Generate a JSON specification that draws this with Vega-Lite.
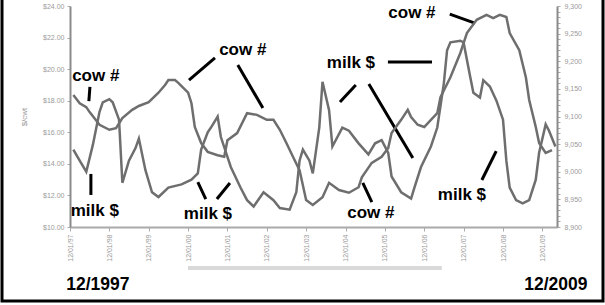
{
  "$schema": "https://vega.github.io/schema/vega-lite/v6.json",
  "width": 601,
  "height": 307,
  "autosize": {"type": "none"},
  "padding": {"left": 2, "top": -6, "right": 2, "bottom": 4},
  "background": "white",
  "config": {
    "view": {"stroke": "black", "strokeWidth": 3},
    "font": "Liberation Sans",
    "axis": {"labelFont": "Liberation Sans", "titleFont": "Liberation Sans"}
  },
  "datasets": {
    "milk": [
      {"date": "1998-01-01", "price": 14.9}, {"date": "1998-03-01", "price": 14.2}, {"date": "1998-05-01", "price": 13.5},
      {"date": "1998-07-01", "price": 15.2}, {"date": "1998-09-01", "price": 17.3}, {"date": "1998-10-01", "price": 17.9},
      {"date": "1998-12-01", "price": 18.1}, {"date": "1999-01-01", "price": 17.9}, {"date": "1999-03-01", "price": 16.8},
      {"date": "1999-04-01", "price": 12.8}, {"date": "1999-06-01", "price": 14.2}, {"date": "1999-08-01", "price": 15.0},
      {"date": "1999-09-01", "price": 15.6}, {"date": "1999-11-01", "price": 13.6}, {"date": "2000-01-01", "price": 12.2},
      {"date": "2000-03-01", "price": 11.9}, {"date": "2000-06-01", "price": 12.5}, {"date": "2000-10-01", "price": 12.7},
      {"date": "2001-01-01", "price": 13.0}, {"date": "2001-03-01", "price": 13.4}, {"date": "2001-04-01", "price": 14.9},
      {"date": "2001-06-01", "price": 16.0}, {"date": "2001-07-01", "price": 16.3}, {"date": "2001-09-01", "price": 17.0},
      {"date": "2001-10-01", "price": 15.7}, {"date": "2002-01-01", "price": 13.8}, {"date": "2002-04-01", "price": 12.5},
      {"date": "2002-06-01", "price": 11.7}, {"date": "2002-08-01", "price": 11.3}, {"date": "2002-11-01", "price": 12.2},
      {"date": "2003-02-01", "price": 11.7}, {"date": "2003-04-01", "price": 11.2}, {"date": "2003-07-01", "price": 11.1},
      {"date": "2003-09-01", "price": 12.2}, {"date": "2003-10-01", "price": 14.2}, {"date": "2003-11-01", "price": 14.9},
      {"date": "2004-01-01", "price": 14.2}, {"date": "2004-02-01", "price": 13.4}, {"date": "2004-04-01", "price": 16.3},
      {"date": "2004-05-01", "price": 19.2}, {"date": "2004-07-01", "price": 17.4}, {"date": "2004-08-01", "price": 15.1},
      {"date": "2004-11-01", "price": 16.3}, {"date": "2005-01-01", "price": 16.1}, {"date": "2005-04-01", "price": 15.3},
      {"date": "2005-07-01", "price": 14.6}, {"date": "2005-09-01", "price": 15.3}, {"date": "2005-11-01", "price": 15.5},
      {"date": "2006-01-01", "price": 14.7}, {"date": "2006-02-01", "price": 13.2}, {"date": "2006-05-01", "price": 12.2},
      {"date": "2006-08-01", "price": 11.8}, {"date": "2006-09-01", "price": 12.5}, {"date": "2006-11-01", "price": 13.8},
      {"date": "2007-02-01", "price": 15.1}, {"date": "2007-04-01", "price": 16.3}, {"date": "2007-06-01", "price": 19.1},
      {"date": "2007-07-01", "price": 21.2}, {"date": "2007-08-01", "price": 21.7}, {"date": "2007-11-01", "price": 21.8},
      {"date": "2007-12-01", "price": 21.7}, {"date": "2008-01-01", "price": 20.6}, {"date": "2008-02-01", "price": 19.5},
      {"date": "2008-03-01", "price": 18.5}, {"date": "2008-05-01", "price": 18.2}, {"date": "2008-06-01", "price": 19.3},
      {"date": "2008-08-01", "price": 18.9}, {"date": "2008-10-01", "price": 18.0}, {"date": "2008-12-01", "price": 16.8},
      {"date": "2009-01-01", "price": 14.2}, {"date": "2009-02-01", "price": 12.5}, {"date": "2009-04-01", "price": 11.7},
      {"date": "2009-06-01", "price": 11.5}, {"date": "2009-08-01", "price": 11.7}, {"date": "2009-10-01", "price": 13.0},
      {"date": "2009-11-01", "price": 14.7}, {"date": "2010-01-01", "price": 16.5}, {"date": "2010-02-01", "price": 16.1},
      {"date": "2010-04-01", "price": 15.1}
    ],
    "cow": [
      {"date": "1998-01-01", "cows": 9139}, {"date": "1998-03-01", "cows": 9124}, {"date": "1998-05-01", "cows": 9117},
      {"date": "1998-06-01", "cows": 9108}, {"date": "1998-09-01", "cows": 9085}, {"date": "1998-12-01", "cows": 9076},
      {"date": "1999-02-01", "cows": 9079}, {"date": "1999-04-01", "cows": 9097}, {"date": "1999-07-01", "cows": 9112},
      {"date": "1999-09-01", "cows": 9119}, {"date": "1999-12-01", "cows": 9126}, {"date": "2000-03-01", "cows": 9143},
      {"date": "2000-05-01", "cows": 9157}, {"date": "2000-06-01", "cows": 9166}, {"date": "2000-08-01", "cows": 9166},
      {"date": "2000-09-01", "cows": 9161}, {"date": "2000-12-01", "cows": 9143}, {"date": "2001-01-01", "cows": 9124},
      {"date": "2001-02-01", "cows": 9081}, {"date": "2001-04-01", "cows": 9052}, {"date": "2001-06-01", "cows": 9036},
      {"date": "2001-09-01", "cows": 9030}, {"date": "2001-11-01", "cows": 9027}, {"date": "2001-12-01", "cows": 9057},
      {"date": "2002-03-01", "cows": 9070}, {"date": "2002-06-01", "cows": 9106}, {"date": "2002-09-01", "cows": 9103},
      {"date": "2002-12-01", "cows": 9094}, {"date": "2003-02-01", "cows": 9094}, {"date": "2003-04-01", "cows": 9076},
      {"date": "2003-06-01", "cows": 9052}, {"date": "2003-08-01", "cows": 9027}, {"date": "2003-10-01", "cows": 9003},
      {"date": "2003-12-01", "cows": 8949}, {"date": "2004-02-01", "cows": 8940}, {"date": "2004-05-01", "cows": 8954},
      {"date": "2004-07-01", "cows": 8980}, {"date": "2004-10-01", "cows": 8967}, {"date": "2005-01-01", "cows": 8962},
      {"date": "2005-04-01", "cows": 8972}, {"date": "2005-05-01", "cows": 8990}, {"date": "2005-08-01", "cows": 9016},
      {"date": "2005-11-01", "cows": 9027}, {"date": "2006-01-01", "cows": 9043}, {"date": "2006-02-01", "cows": 9070},
      {"date": "2006-05-01", "cows": 9094}, {"date": "2006-07-01", "cows": 9112}, {"date": "2006-08-01", "cows": 9099},
      {"date": "2006-10-01", "cows": 9085}, {"date": "2006-12-01", "cows": 9081}, {"date": "2007-02-01", "cows": 9094},
      {"date": "2007-04-01", "cows": 9106}, {"date": "2007-05-01", "cows": 9135}, {"date": "2007-08-01", "cows": 9171},
      {"date": "2007-11-01", "cows": 9215}, {"date": "2008-01-01", "cows": 9251}, {"date": "2008-04-01", "cows": 9275},
      {"date": "2008-07-01", "cows": 9284}, {"date": "2008-09-01", "cows": 9278}, {"date": "2008-11-01", "cows": 9284},
      {"date": "2009-01-01", "cows": 9280}, {"date": "2009-02-01", "cows": 9251}, {"date": "2009-05-01", "cows": 9220},
      {"date": "2009-07-01", "cows": 9171}, {"date": "2009-08-01", "cows": 9130}, {"date": "2009-10-01", "cows": 9081},
      {"date": "2009-11-01", "cows": 9052}, {"date": "2010-01-01", "cows": 9034}, {"date": "2010-03-01", "cows": 9039}
    ],
    "notes": [
      {"date": "1998-07-28", "value": 19.57, "label": "cow #"},
      {"date": "1998-07-19", "value": 11.01, "label": "milk $"},
      {"date": "2002-04-22", "value": 21.21, "label": "cow #"},
      {"date": "2001-06-03", "value": 10.82, "label": "milk $"},
      {"date": "2005-01-20", "value": 20.39, "label": "milk $"},
      {"date": "2005-07-24", "value": 10.89, "label": "cow #"},
      {"date": "2006-08-09", "value": 23.56, "label": "cow #"},
      {"date": "2007-11-16", "value": 12.03, "label": "milk $"}
    ],
    "pointers": [
      {"d1": "1998-06-04", "v1": 18.87, "d2": "1998-05-25", "v2": 17.98},
      {"d1": "1998-06-13", "v1": 13.36, "d2": "1998-06-13", "v2": 12.03},
      {"d1": "2000-12-09", "v1": 19.31, "d2": "2001-08-07", "v2": 20.71},
      {"d1": "2002-03-07", "v1": 20.26, "d2": "2002-10-26", "v2": 17.54},
      {"d1": "2001-03-01", "v1": 12.85, "d2": "2001-05-14", "v2": 11.77},
      {"d1": "2001-12-24", "v1": 12.79, "d2": "2001-08-25", "v2": 11.77},
      {"d1": "2004-10-10", "v1": 17.92, "d2": "2005-03-06", "v2": 19.0},
      {"d1": "2005-07-05", "v1": 19.06, "d2": "2006-08-17", "v2": 14.37},
      {"d1": "2005-12-29", "v1": 20.45, "d2": "2007-02-11", "v2": 20.45},
      {"d1": "2005-05-10", "v1": 12.79, "d2": "2005-08-02", "v2": 11.58},
      {"d1": "2007-07-26", "v1": 23.49, "d2": "2008-03-15", "v2": 22.92},
      {"d1": "2008-09-29", "v1": 14.81, "d2": "2008-05-19", "v2": 12.98}
    ],
    "ends": [
      {"date": "1998-08-17", "value": 6.33, "label": "12/1997"},
      {"date": "2010-04-06", "value": 6.33, "label": "12/2009"}
    ],
    "slider": [
      {"d1": "2000-11-30", "d2": "2007-05-13", "value": 7.4}
    ]
  },
  "layer": [
    {
      "layer": [
        {
          "data": {"name": "milk"},
          "mark": {"type": "line", "stroke": "#6e6e6e", "strokeWidth": 2.5},
          "encoding": {
            "x": {
              "field": "date", "type": "temporal", "title": null,
              "scale": {"type": "utc", "domain": [{"year": 1997, "month": 12, "date": 1, "utc": true}, {"year": 2010, "month": 4, "date": 16, "utc": true}], "range": [68, 555]},
              "axis": {
                "offset": -74,
                "values": [
                  {"year": 1997, "month": 12, "date": 1, "utc": true}, {"year": 1998, "month": 12, "date": 1, "utc": true},
                  {"year": 1999, "month": 12, "date": 1, "utc": true}, {"year": 2000, "month": 12, "date": 1, "utc": true},
                  {"year": 2001, "month": 12, "date": 1, "utc": true}, {"year": 2002, "month": 12, "date": 1, "utc": true},
                  {"year": 2003, "month": 12, "date": 1, "utc": true}, {"year": 2004, "month": 12, "date": 1, "utc": true},
                  {"year": 2005, "month": 12, "date": 1, "utc": true}, {"year": 2006, "month": 12, "date": 1, "utc": true},
                  {"year": 2007, "month": 12, "date": 1, "utc": true}, {"year": 2008, "month": 12, "date": 1, "utc": true},
                  {"year": 2009, "month": 12, "date": 1, "utc": true}
                ],
                "format": "%m/%d/%y",
                "labelAngle": 270,
                "labelFontSize": 7,
                "labelColor": "#9a9a9a",
                "labelPadding": 3,
                "tickSize": 4,
                "tickColor": "#aaaaaa",
                "domainColor": "#aaaaaa",
                "domainWidth": 2,
                "grid": false
              }
            },
            "y": {
              "field": "price", "type": "quantitative", "title": "$/cwt",
              "scale": {"domain": [10, 24], "range": [233, 12], "nice": false, "zero": false},
              "axis": {
                "orient": "left",
                "offset": -68,
                "values": [10, 10.5, 11, 11.5, 12, 12.5, 13, 13.5, 14, 14.5, 15, 15.5, 16, 16.5, 17, 17.5, 18, 18.5, 19, 19.5, 20, 20.5, 21, 21.5, 22, 22.5, 23, 23.5, 24],
                "labelExpr": "datum.value % 2 === 0 ? format(datum.value, '$.2f') : ''",
                "labelFontSize": 7,
                "labelColor": "#9a9a9a",
                "labelPadding": 3,
                "tickSize": 3,
                "tickColor": "#aaaaaa",
                "domainColor": "#8a8a8a",
                "domainWidth": 2,
                "grid": false,
                "titleFontSize": 8,
                "titleFontWeight": "normal",
                "titleColor": "#9a9a9a",
                "titlePadding": 14
              }
            }
          }
        },
        {
          "data": {"name": "pointers"},
          "mark": {"type": "rule", "color": "black", "strokeWidth": 3},
          "encoding": {
            "x": {"field": "d1", "type": "temporal", "title": null},
            "x2": {"field": "d2"},
            "y": {"field": "v1", "type": "quantitative", "title": "$/cwt"},
            "y2": {"field": "v2"}
          }
        },
        {
          "data": {"name": "notes"},
          "mark": {"type": "text", "font": "Liberation Sans", "fontWeight": "bold", "fontSize": 17, "color": "black", "align": "center", "baseline": "middle"},
          "encoding": {
            "x": {"field": "date", "type": "temporal", "title": null},
            "y": {"field": "value", "type": "quantitative", "title": "$/cwt"},
            "text": {"field": "label"}
          }
        },
        {
          "data": {"name": "ends"},
          "mark": {"type": "text", "font": "Liberation Sans", "fontWeight": "bold", "fontSize": 17.5, "color": "black", "align": "center", "baseline": "middle"},
          "encoding": {
            "x": {"field": "date", "type": "temporal", "title": null},
            "y": {"field": "value", "type": "quantitative", "title": "$/cwt"},
            "text": {"field": "label"}
          }
        },
        {
          "data": {"name": "slider"},
          "mark": {"type": "rule", "color": "#d9d9d9", "strokeWidth": 4},
          "encoding": {
            "x": {"field": "d1", "type": "temporal", "title": null},
            "x2": {"field": "d2"},
            "y": {"field": "value", "type": "quantitative", "title": "$/cwt"}
          }
        }
      ]
    },
    {
      "data": {"name": "cow"},
      "mark": {"type": "line", "stroke": "#6e6e6e", "strokeWidth": 2.5},
      "encoding": {
        "x": {"field": "date", "type": "temporal", "title": null},
        "y": {
          "field": "cows", "type": "quantitative", "title": null,
          "scale": {"domain": [8900, 9300], "range": [233, 12], "nice": false, "zero": false},
          "axis": {
            "orient": "right",
            "offset": -46,
            "values": [8900, 8910, 8920, 8930, 8940, 8950, 8960, 8970, 8980, 8990, 9000, 9010, 9020, 9030, 9040, 9050, 9060, 9070, 9080, 9090, 9100, 9110, 9120, 9130, 9140, 9150, 9160, 9170, 9180, 9190, 9200, 9210, 9220, 9230, 9240, 9250, 9260, 9270, 9280, 9290, 9300],
            "labelExpr": "datum.value % 50 === 0 ? format(datum.value, ',') : ''",
            "labelFontSize": 7,
            "labelColor": "#9a9a9a",
            "labelPadding": 4,
            "tickSize": 3,
            "tickColor": "#aaaaaa",
            "domainColor": "#8a8a8a",
            "domainWidth": 2,
            "grid": false
          }
        }
      }
    }
  ],
  "resolve": {"scale": {"y": "independent"}}
}
